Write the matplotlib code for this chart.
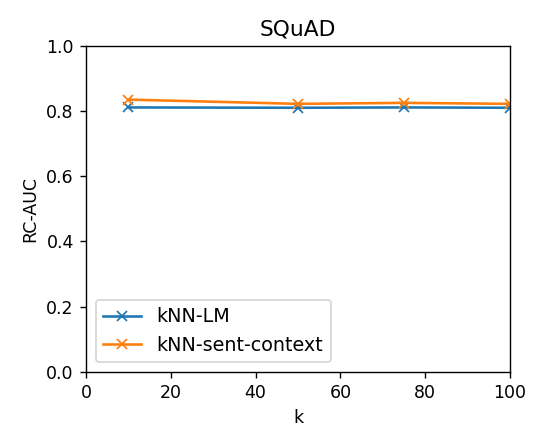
import matplotlib.pyplot as plt

k_values = [10, 50, 75, 100]
knn_lm = [0.811, 0.810, 0.811, 0.810]
knn_sent_context = [0.835, 0.822, 0.825, 0.822]

# default styling, rendered at 125 dpi so everything scales up together
fig = plt.figure(figsize=(4.272, 3.456), dpi=125)
ax = fig.add_axes([0.161, 0.139, 0.794, 0.755])

ax.plot(k_values, knn_lm, marker='x', label='kNN-LM')
ax.plot(k_values, knn_sent_context, marker='x', label='kNN-sent-context')

ax.set_xlim(0, 100)
ax.set_ylim(0, 1.0)
ax.set_title('SQuAD', fontsize=12.5)
ax.set_xlabel('k')
ax.set_ylabel('RC-AUC')
ax.legend(loc='lower left', fontsize=11)

fig.savefig('out.png', dpi=125)
